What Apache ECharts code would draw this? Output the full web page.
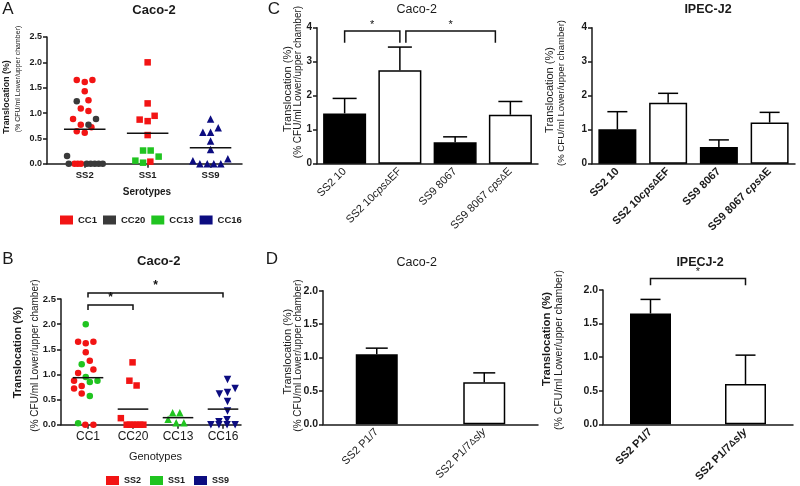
<!DOCTYPE html>
<html><head><meta charset="utf-8">
<script src="https://cdn.jsdelivr.net/npm/echarts@6/dist/echarts.min.js"></script>
<style>html,body{margin:0;padding:0;background:#fff}#c{width:800px;height:486px}</style>
</head><body><div id="c"></div>
<script>
// ---------- DATA ----------
// Panel A: [horizontal jitter (category units), translocation %]
const serotypes = ['SS2', 'SS1', 'SS9'];
const aSS2_CC1 = [[-0.127,1.65],[0,1.61],[0.122,1.65],[0,1.43],[0.059,1.25],[-0.063,1.09],[0.059,1.04],[-0.186,0.88],[-0.063,0.77],[0.106,0.72],[-0.127,0.64],[0,0.61],[-0.163,0],[-0.111,0],[-0.059,0]];
const aSS2_CC20 = [[-0.127,1.23],[0.179,0.88],[0.059,0.77],[-0.281,0.15],[-0.254,0],[0.032,0],[0.095,0],[0.159,0],[0.222,0],[0.286,0]];
const aSS1_CC1 = [[0,2.0],[0,1.19],[0.111,0.945],[-0.127,0.87],[0,0.84],[0,0.565],[0.043,0.04]];
const aSS1_CC13 = [[-0.073,0.26],[0.048,0.26],[0.175,0.14],[-0.195,0.06],[-0.073,0.02]];
const aSS9_CC16 = [[0,0.88],[-0.122,0.62],[0,0.62],[0.122,0.71],[0,0.45],[0,0.28],[-0.281,0.06],[0.275,0.1],[-0.17,0],[-0.052,0],[0.052,0],[0.163,0]];
const aMeans = [0.68, 0.60, 0.315];

// Panel B
const genotypes = ['CC1', 'CC20', 'CC13', 'CC16'];
const bCC1_SS2 = [[-0.22,1.65],[-0.05,1.62],[0.12,1.65],[-0.05,1.44],[0.04,1.27],[0.12,1.10],[-0.22,1.03],[-0.31,0.875],[-0.14,0.77],[-0.31,0.72],[-0.14,0.62],[-0.06,0],[0.12,0]];
const bCC1_SS1 = [[-0.05,2.0],[-0.14,1.20],[-0.05,0.95],[0.04,0.85],[0.21,0.875],[0.04,0.57],[-0.22,0.03]];
const bCC20_SS2 = [[-0.01,1.24],[-0.08,0.875],[0.08,0.78],[-0.27,0.13],[-0.14,0],[-0.07,0],[0.01,0],[0.08,0],[0.16,0],[0.23,0]];
const bCC13_SS1 = [[-0.12,0.24],[0.04,0.24],[-0.22,0.11],[-0.04,0.04],[0.13,0.04]];
const bCC16_SS9 = [[0.1,0.9],[-0.08,0.61],[0.1,0.64],[0.27,0.72],[0.1,0.46],[0.1,0.27],[0.09,0.10],[-0.09,0.06],[-0.27,0],[-0.09,0],[0.09,0],[0.27,0]];
const bMeans = [0.935, 0.31, 0.14, 0.31];

// Panel C
const cStrains = ['SS2 10', 'SS2 10cpsΔEF', 'SS9 8067', 'SS9 8067 cpsΔE'];
const cCacoMean = [1.48, 2.75, 0.63, 1.44];
const cCacoUpper = [1.92, 3.43, 0.79, 1.83];
const cIpecMean = [1.01, 1.79, 0.49, 1.21];
const cIpecUpper = [1.53, 2.07, 0.70, 1.51];

// Panel D
const dStrains = ['SS2 P1/7', 'SS2 P1/7Δsly'];
const dCacoMean = [1.05, 0.63];
const dCacoUpper = [1.14, 0.77];
const dIpecMean = [1.65, 0.60];
const dIpecUpper = [1.86, 1.03];

// ---------- STYLE / LAYOUT ----------
const FF = 'Liberation Sans';
const RED = '#f21414', DARK = '#3a3a3a', GREEN = '#20c420', NAVY = '#0c0c80';
const AX = {color: '#1a1a1a', width: 1.5};
const wildFill = ['#000', '#fff', '#000', '#fff'];

const grids = [
  {left: 47, top: 37, width: 195, height: 126.7},
  {left: 61, top: 299, width: 180, height: 125.7},
  {left: 317, top: 27.7, width: 221, height: 136},
  {left: 592, top: 27.7, width: 203, height: 136},
  {left: 323, top: 290.7, width: 215, height: 133.6},
  {left: 603, top: 290, width: 190, height: 134.3}
];

function scatterX(gi, min, max, cats, labelStyle) {
  const vals = cats.map((c, i) => i);
  return {gridIndex: gi, type: 'value', min: min, max: max,
    axisLine: {show: true, onZero: false, lineStyle: AX},
    axisTick: {show: true, length: 4, lineStyle: AX, customValues: vals},
    axisLabel: Object.assign({customValues: vals, formatter: v => cats[Math.round(v)], fontFamily: FF, color: '#1a1a1a'}, labelStyle),
    splitLine: {show: false}};
}
function valueY(gi, max, interval, dec, fs) {
  return {gridIndex: gi, type: 'value', min: 0, max: max, interval: interval,
    axisLine: {show: true, onZero: false, lineStyle: AX},
    axisTick: {show: true, length: 4, lineStyle: AX},
    axisLabel: {formatter: v => v.toFixed(dec), fontFamily: FF, fontWeight: 'bold', fontSize: fs, color: '#1a1a1a', margin: 5},
    splitLine: {show: false}};
}
function richName(s) {
  return s.replace('cps', '{i|cps}').replace('sly', '{i|sly}').replace('Δ', '{d|Δ}');
}
function catX(gi, cats, bold) {
  const base = {fontFamily: FF, fontSize: 11, fontWeight: bold ? 'bold' : 'normal', color: '#1a1a1a'};
  return {gridIndex: gi, type: 'category', data: cats,
    axisLine: {show: true, lineStyle: AX}, axisTick: {show: false},
    axisLabel: Object.assign({}, base, {rotate: 45, interval: 0, margin: 6, formatter: richName,
      rich: {i: Object.assign({}, base, {fontStyle: 'italic'}), d: Object.assign({}, base, {fontSize: 9})}})};
}

function scatterSeries(name, xi, col, pts, symbol, color, rot) {
  return {type: 'scatter', name: name, xAxisIndex: xi, yAxisIndex: xi,
    symbol: symbol, symbolSize: symbol === 'triangle' ? 7.5 : 6.5, symbolRotate: rot || 0,
    itemStyle: {color: color, opacity: 1}, z: 3,
    data: pts.map(p => [col + p[0], p[1]])};
}
function meanSeries(xi, means, half) {
  return {type: 'custom', xAxisIndex: xi, yAxisIndex: xi, z: 4, silent: true,
    data: means.map((m, i) => [i, m]),
    renderItem(params, api) {
      const a = api.coord([api.value(0) - half, api.value(1)]);
      const b = api.coord([api.value(0) + half, api.value(1)]);
      return {type: 'line', shape: {x1: a[0], y1: a[1], x2: b[0], y2: b[1]}, style: {stroke: '#111', lineWidth: 1.5}};
    }};
}
function bracketSeries(xi, list, starFont) {
  return {type: 'custom', xAxisIndex: xi, yAxisIndex: xi, z: 5, silent: true,
    data: list.map(b => [b.from, b.y]),
    renderItem(params, api) {
      const b = list[params.dataIndex];
      const L = api.coord([b.from, b.y]), R = api.coord([b.to, b.y]), Ld = api.coord([b.from, b.y - b.drop]);
      const x1 = L[0] + (b.nl || 0), x2 = R[0] + (b.nr || 0), y = L[1], yd = Ld[1];
      return {type: 'group', children: [
        {type: 'polyline', shape: {points: [[x1, yd], [x1, y], [x2, y], [x2, yd]]}, style: {stroke: '#111', fill: null, lineWidth: 1.5}},
        {type: 'text', x: (x1 + x2) / 2, y: y - 1, style: {text: '*', textAlign: 'center', textVerticalAlign: 'bottom', font: starFont, fill: '#111'}}
      ]};
    }};
}
function barSeries(xi, means, bw) {
  return {type: 'bar', xAxisIndex: xi, yAxisIndex: xi, barWidth: bw, z: 2,
    data: means.map((m, i) => ({value: m, itemStyle: {color: wildFill[i], borderColor: '#000', borderWidth: 1.5}}))};
}
function errSeries(xi, means, uppers, cap) {
  return {type: 'custom', xAxisIndex: xi, yAxisIndex: xi, z: 3, silent: true,
    data: means.map((m, i) => [i, m, uppers[i]]), encode: {x: 0, y: [1, 2]},
    renderItem(params, api) {
      const i = api.value(0);
      const b = api.coord([i, api.value(1)]), t = api.coord([i, api.value(2)]);
      return {type: 'group', children: [
        {type: 'line', shape: {x1: b[0], y1: b[1], x2: t[0], y2: t[1]}, style: {stroke: '#000', lineWidth: 1.5}},
        {type: 'line', shape: {x1: t[0] - cap, y1: t[1], x2: t[0] + cap, y2: t[1]}, style: {stroke: '#000', lineWidth: 1.5}}
      ]};
    }};
}
function txt(text, x, y, font, rot) {
  return {type: 'text', x: x, y: y, rotation: rot || 0, silent: true,
    style: {text: text, font: font, fill: '#1a1a1a', textAlign: 'center', textVerticalAlign: 'middle'}};
}
const R90 = Math.PI / 2;
const L1 = 'Translocation (%)', L2 = '(% CFU/ml Lower/upper chamber)';

const option = {
  animation: false,
  backgroundColor: '#fff',
  grid: grids,
  xAxis: [
    scatterX(0, -0.6, 2.5, serotypes, {fontSize: 9.5, fontWeight: 'bold', margin: 7}),
    scatterX(1, -0.6, 3.4, genotypes, {fontSize: 12, fontWeight: 'normal', margin: 6}),
    catX(2, cStrains, false), catX(3, cStrains, true), catX(4, dStrains, false), catX(5, dStrains, true)
  ],
  yAxis: [
    valueY(0, 2.5, 0.5, 1, 9), valueY(1, 2.5, 0.5, 1, 9.5),
    valueY(2, 4, 1, 0, 10), valueY(3, 4, 1, 0, 10),
    valueY(4, 2, 0.5, 1, 10.5), valueY(5, 2, 0.5, 1, 10.5)
  ],
  legend: [
    {data: ['CC1', 'CC20', 'CC13', 'CC16'], left: 55, top: 210, icon: 'rect', itemWidth: 13, itemHeight: 9, itemGap: 6,
      selectedMode: false, textStyle: {fontFamily: FF, fontWeight: 'bold', fontSize: 9.5, color: '#1a1a1a'}},
    {data: ['SS2', 'SS1', 'SS9'], left: 101, top: 471, icon: 'rect', itemWidth: 13, itemHeight: 9, itemGap: 9,
      selectedMode: false, textStyle: {fontFamily: FF, fontWeight: 'bold', fontSize: 9, color: '#1a1a1a'}}
  ],
  series: [
    scatterSeries('CC1', 0, 0, aSS2_CC1, 'circle', RED),
    scatterSeries('CC20', 0, 0, aSS2_CC20, 'circle', DARK),
    scatterSeries('CC1', 0, 1, aSS1_CC1, 'rect', RED),
    scatterSeries('CC13', 0, 1, aSS1_CC13, 'rect', GREEN),
    scatterSeries('CC16', 0, 2, aSS9_CC16, 'triangle', NAVY),
    meanSeries(0, aMeans, 0.33),
    scatterSeries('SS2', 1, 0, bCC1_SS2, 'circle', RED),
    scatterSeries('SS1', 1, 0, bCC1_SS1, 'circle', GREEN),
    scatterSeries('SS2', 1, 1, bCC20_SS2, 'rect', RED),
    scatterSeries('SS1', 1, 2, bCC13_SS1, 'triangle', GREEN),
    scatterSeries('SS9', 1, 3, bCC16_SS9, 'triangle', NAVY, 180),
    meanSeries(1, bMeans, 0.34),
    bracketSeries(1, [{from: 0, to: 1, y: 2.38, drop: 0.1}, {from: 0, to: 3, y: 2.62, drop: 0.09}], 'bold 12px Liberation Sans'),
    barSeries(2, cCacoMean, 43), errSeries(2, cCacoMean, cCacoUpper, 12),
    bracketSeries(2, [{from: 0, to: 1, y: 3.9, drop: 0.34}, {from: 1, to: 3, y: 3.9, drop: 0.34, nl: 6, nr: -15}], '11px Liberation Sans'),
    barSeries(3, cIpecMean, 38), errSeries(3, cIpecMean, cIpecUpper, 10),
    barSeries(4, dCacoMean, 42), errSeries(4, dCacoMean, dCacoUpper, 11),
    barSeries(5, dIpecMean, 41), errSeries(5, dIpecMean, dIpecUpper, 10),
    bracketSeries(5, [{from: 0, to: 1, y: 2.17, drop: 0.1}], '11px Liberation Sans')
  ],
  graphic: [
    txt('A', 8, 9, '17px Liberation Sans'), txt('B', 8, 259, '17px Liberation Sans'),
    txt('C', 274, 9, '17px Liberation Sans'), txt('D', 272, 259, '17px Liberation Sans'),
    txt('Caco-2', 154, 10, 'bold 13px Liberation Sans'),
    txt('Caco-2', 158.7, 261, 'bold 13px Liberation Sans'),
    txt('Caco-2', 416.7, 10, '12.5px Liberation Sans'),
    txt('IPEC-J2', 708, 10, 'bold 12.5px Liberation Sans'),
    txt('Caco-2', 416.7, 263, '12.5px Liberation Sans'),
    txt('IPECJ-2', 700, 263, 'bold 12.5px Liberation Sans'),
    txt('Serotypes', 147, 192, 'bold 10px Liberation Sans'),
    txt('Genotypes', 155.5, 456.5, '11px Liberation Sans'),
    txt(L1, 7, 97, 'bold 8.8px Liberation Sans', R90), txt(L2, 18.5, 79, '7px Liberation Sans', R90),
    txt(L1, 18.3, 352.5, 'bold 11px Liberation Sans', R90), txt(L2, 35.5, 355.5, '10px Liberation Sans', R90),
    txt(L1, 287.5, 89, '11px Liberation Sans', R90), txt(L2, 298, 82, '10px Liberation Sans', R90),
    txt(L1, 550, 90, '11px Liberation Sans', R90), txt(L2, 561, 93, '9.6px Liberation Sans', R90),
    txt(L1, 287.7, 351.7, '11px Liberation Sans', R90), txt(L2, 298, 355.5, '10px Liberation Sans', R90),
    txt(L1, 547, 339, 'bold 11.3px Liberation Sans', R90), txt(L2, 558.7, 350, '10.5px Liberation Sans', R90)
  ]
};
const chart = echarts.init(document.getElementById('c'), null, {renderer: 'canvas'});
chart.setOption(option);
</script>
</body></html>
